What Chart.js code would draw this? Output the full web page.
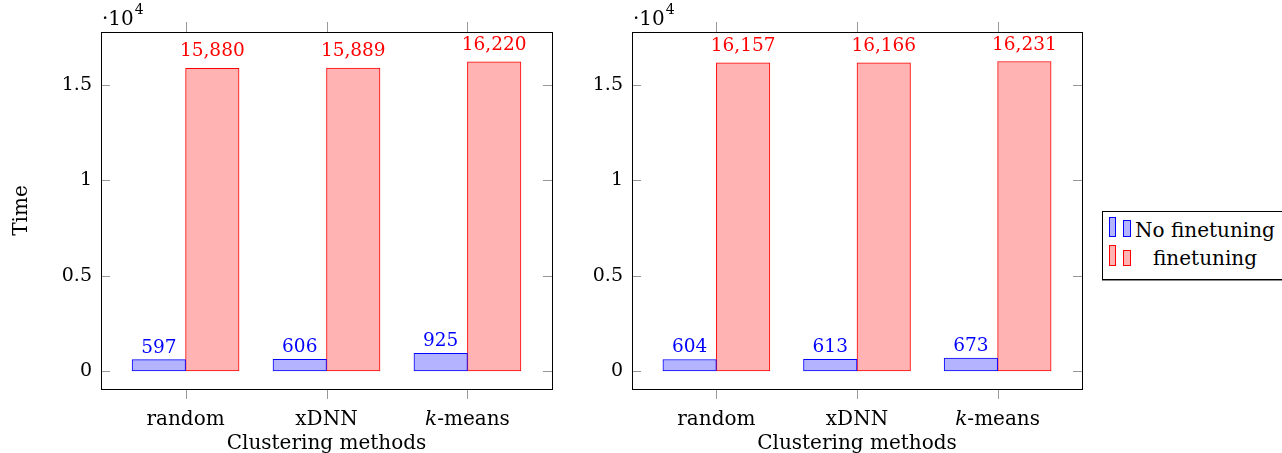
<!DOCTYPE html>
<html>
<head>
<meta charset="utf-8">
<script src="https://cdn.jsdelivr.net/npm/chart.js@4.4.1/dist/chart.umd.min.js"></script>
<style>
  body { margin: 0; background: #fff; width: 1282px; height: 453px; overflow: hidden; position: relative; font-family: 'DejaVu Serif', serif; }
  canvas { position: absolute; top: 0; }
  #c1 { left: 0; }
  #c2 { left: 560px; }
  #legend { position: absolute; left: 1102px; top: 211px; width: 190px; height: 67px; border: 1px solid #000; box-shadow: 0 1px 0 #888; background: #fff; }
  #legend .ic { position: absolute; box-sizing: border-box; border: 1px solid; }
  #legend .blue { background: #b3b3ff; border-color: #0000ff; }
  #legend .red { background: #ffb3b3; border-color: #ff0000; }
  #legend .lab { position: absolute; left: 32px; width: 140px; text-align: center; font-size: 20px; line-height: 20px; color: #000; white-space: nowrap; }
</style>
</head>
<body>
<canvas id="c1" width="570" height="453"></canvas>
<canvas id="c2" width="540" height="453"></canvas>
<div id="legend">
  <div class="ic blue" style="left:6px;top:5px;width:7px;height:20px"></div>
  <div class="ic blue" style="left:20px;top:8px;width:8px;height:17px"></div>
  <div class="lab" style="top:8px">No finetuning</div>
  <div class="ic red" style="left:6px;top:33px;width:7px;height:21px"></div>
  <div class="ic red" style="left:20px;top:38px;width:8px;height:16px"></div>
  <div class="lab" style="top:36px">finetuning</div>
</div>
<script>
// data
const categories = ['random', 'xDNN', 'k-means'];
const noFinetuneLeft = [597, 606, 925];
const finetuneLeft = [15880, 15889, 16220];
const noFinetuneRight = [604, 613, 673];
const finetuneRight = [16157, 16166, 16231];
const yTicks = [0, 5000, 10000, 15000];

const FONT = "'DejaVu Serif', serif";
const BLUE = '#0000ff', BLUE_FILL = '#b3b3ff';
const RED = '#ff0000', RED_FILL = '#ffb3b3';

// pgfplots style frame, ticks and labels
const decor = {
  id: 'decor',
  afterDraw(chart, args, opts) {
    const { ctx, chartArea: a, scales: { x, y } } = chart;
    const line = (x1, y1, x2, y2) => { ctx.beginPath(); ctx.moveTo(x1, y1); ctx.lineTo(x2, y2); ctx.stroke(); };
    ctx.save();
    ctx.lineWidth = 1;
    ctx.strokeStyle = '#999';
    yTicks.forEach(v => {
      const py = Math.round(y.getPixelForValue(v)) + 0.5;
      line(a.left, py, a.left + 9, py);
      line(a.right - 9, py, a.right, py);
    });
    categories.forEach((c, i) => {
      const px = Math.round(x.getPixelForValue(i)) + 0.5;
      line(px, a.top - 10, px, a.top);
      line(px, a.bottom, px, a.bottom + 10);
    });
    ctx.strokeStyle = '#000';
    ctx.strokeRect(Math.round(a.left) + 0.5, Math.round(a.top) + 0.5, Math.round(a.right - a.left), Math.round(a.bottom - a.top));

    // values above bars (labels with a comma sit higher, like the tex nodes)
    ctx.textAlign = 'center';
    ctx.textBaseline = 'alphabetic';
    ctx.font = '18.5px ' + FONT;
    chart.data.datasets.forEach((ds, di) => {
      chart.getDatasetMeta(di).data.forEach((bar, i) => {
        const txt = ds.data[i].y.toLocaleString('en-US');
        ctx.fillStyle = ds.borderColor;
        const m = ctx.measureText(txt);
        ctx.fillText(txt, bar.x, bar.y - 7 - m.actualBoundingBoxDescent * 1.6);
      });
    });

    // category labels, k in italics
    ctx.fillStyle = '#000';
    ctx.textAlign = 'left';
    categories.forEach((c, i) => {
      const px = x.getPixelForValue(i);
      if (c.startsWith('k-')) {
        ctx.font = 'italic 20px ' + FONT;
        const w1 = ctx.measureText('k').width;
        ctx.font = '20px ' + FONT;
        const rest = c.slice(1);
        const w2 = ctx.measureText(rest).width;
        const sx = px - (w1 + w2) / 2;
        ctx.font = 'italic 20px ' + FONT;
        ctx.fillText('k', sx, 425);
        ctx.font = '20px ' + FONT;
        ctx.fillText(rest, sx + w1, 425);
      } else {
        ctx.font = '20px ' + FONT;
        ctx.textAlign = 'center';
        ctx.fillText(c, px, 425);
        ctx.textAlign = 'left';
      }
    });

    // axis titles
    ctx.textAlign = 'center';
    ctx.font = '20px ' + FONT;
    ctx.fillText('Clustering methods', (a.left + a.right) / 2, 449);
    if (opts.yTitle) {
      ctx.save();
      ctx.translate(27, (a.top + a.bottom) / 2);
      ctx.rotate(-Math.PI / 2);
      ctx.fillText(opts.yTitle, 0, 0);
      ctx.restore();
    }

    // scale factor
    ctx.textAlign = 'left';
    ctx.font = '20px ' + FONT;
    ctx.fillText('\u00b710', a.left + 1, 25);
    const w = ctx.measureText('\u00b710').width;
    ctx.font = '14px ' + FONT;
    ctx.fillText('4', a.left + 2 + w, 14);
    ctx.restore();
  }
};

function makeChart(id, noFt, ft, yWidth, yTitle) {
  const toPts = arr => arr.map((v, i) => ({ x: i, y: v }));
  return new Chart(document.getElementById(id), {
    type: 'bar',
    data: {
      datasets: [
        { label: 'No finetuning', data: toPts(noFt), backgroundColor: BLUE_FILL, borderColor: BLUE, borderWidth: 1, borderSkipped: false, barThickness: 53.5 },
        { label: 'finetuning', data: toPts(ft), backgroundColor: RED_FILL, borderColor: RED, borderWidth: 1, borderSkipped: false, barThickness: 53.5 }
      ]
    },
    options: {
      responsive: false,
      animation: false,
      layout: { padding: { left: 0, top: 32, right: 18, bottom: 0 } },
      plugins: { legend: { display: false }, tooltip: { enabled: false }, decor: { yTitle: yTitle } },
      scales: {
        x: {
          type: 'linear', min: -0.6, max: 2.6, offset: false,
          grid: { display: false, drawTicks: false },
          border: { display: false },
          ticks: { display: false },
          afterBuildTicks: s => { s.ticks = categories.map((c, i) => ({ value: i })); },
          afterFit: s => { s.height = 64; }
        },
        y: {
          min: -944, max: 17780,
          grid: { display: false, drawTicks: false },
          border: { display: false },
          afterBuildTicks: s => { s.ticks = yTicks.map(v => ({ value: v })); },
          ticks: {
            autoSkip: false, padding: 9, color: '#000',
            font: { family: FONT, size: 19 },
            callback: v => String(v / 10000)
          },
          afterFit: s => { s.width = yWidth; }
        }
      }
    },
    plugins: [decor]
  });
}

makeChart('c1', noFinetuneLeft, finetuneLeft, 101, 'Time');
makeChart('c2', noFinetuneRight, finetuneRight, 72, null);
</script>
</body>
</html>
